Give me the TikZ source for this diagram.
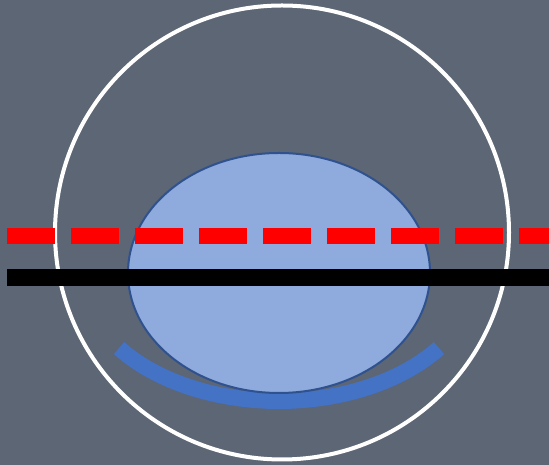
\documentclass[tikz,border=0pt]{standalone}
\usepackage{xcolor}
\usepackage{tikz}
\definecolor{SlateGray}{RGB}{92,102,116}
\definecolor{LensFill}{RGB}{143,170,220}
\definecolor{LensEdge}{RGB}{47,82,143}
\definecolor{CupBlue}{RGB}{68,114,196}
\definecolor{PureRed}{RGB}{255,0,0}

\begin{document}
\begin{tikzpicture}[
  x=1bp, y=1bp,
  outer/.style={draw=white, line width=4bp},
  lens/.style={draw=LensEdge, fill=LensFill, line width=2bp},
  cup/.style={draw=CupBlue, line width=16bp},
  redline/.style={draw=PureRed, line width=16bp, dash pattern=on 48bp off 16bp},
  blackline/.style={draw=black, line width=17bp},
]
% background and frame
\fill[SlateGray] (0,0) rectangle (549,465);
\useasboundingbox (0,0) rectangle (549,465);

\coordinate (eye)  at (282,232.5);
\coordinate (mid)  at (279,192);
\coordinate (redL) at (7,229);
\coordinate (redR) at (549,229);
\coordinate (blkL) at (7,187.5);
\coordinate (blkR) at (549,187.5);

\draw[outer] (eye) circle[radius=227];
\draw[cup] (mid) ++(215.9:197.5 and 128) arc[start angle=215.9, end angle=324.1,
                                              x radius=197.5, y radius=128];
\draw[lens] (mid) ellipse[x radius=151, y radius=120];

\draw[redline]   (redL) -- (redR);
\draw[blackline] (blkL) -- (blkR);
\end{tikzpicture}
\end{document}
